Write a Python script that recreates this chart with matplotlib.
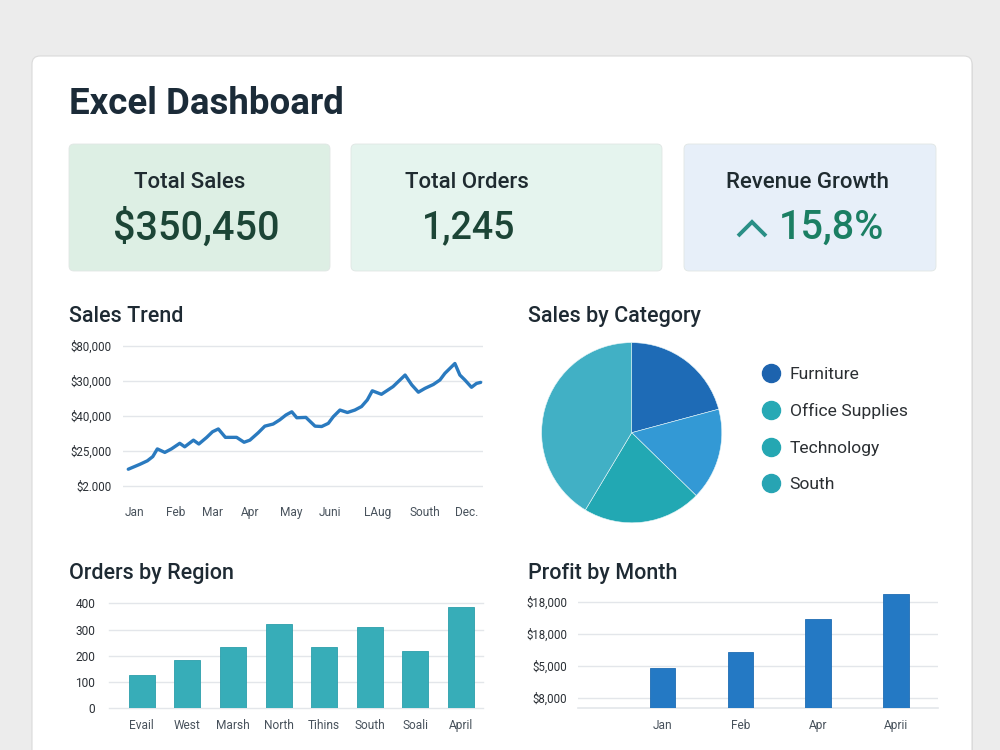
import matplotlib
matplotlib.use("Agg")
import matplotlib.pyplot as plt
from matplotlib.patches import FancyBboxPatch
from matplotlib.lines import Line2D

# ---------------- data ----------------
kpi_labels = ["Total Sales", "Total Orders", "Revenue Growth"]
kpi_values = ["$350,450", "1,245", "15,8%"]

trend_x = [-0.16, 0.12, 0.30, 0.43, 0.54, 0.72, 0.88, 1.08, 1.20, 1.41, 1.54, 1.73,
           1.87, 2.01, 2.18, 2.45, 2.63, 2.77, 2.97, 3.13, 3.33, 3.49, 3.64, 3.78,
           3.90, 4.12, 4.34, 4.50, 4.66, 4.78, 4.94, 5.12, 5.30, 5.46, 5.60, 5.72,
           5.94, 6.22, 6.51, 6.67, 6.83, 6.99, 7.19, 7.35, 7.47, 7.71, 7.83, 7.95,
           8.11, 8.23, 8.33]
trend_y = [0.48, 0.62, 0.72, 0.84, 1.06, 0.96, 1.06, 1.22, 1.12, 1.31, 1.20, 1.39,
           1.55, 1.63, 1.39, 1.39, 1.25, 1.31, 1.52, 1.71, 1.77, 1.89, 2.03, 2.12,
           1.95, 1.96, 1.71, 1.70, 1.79, 1.98, 2.17, 2.10, 2.17, 2.27, 2.46, 2.72,
           2.62, 2.84, 3.17, 2.89, 2.68, 2.79, 2.90, 3.03, 3.22, 3.50, 3.17, 3.03,
           2.82, 2.93, 2.96]
trend_ytick_labels = ["$2.000", "$25,000", "$40,000", "$30,000", "$80,000"]
trend_xtick_pos = [0, 0.99, 1.88, 2.77, 3.76, 4.70, 5.86, 6.99, 8.0]
trend_xtick_labels = ["Jan", "Feb", "Mar", "Apr", "May", "Juni", "LAug", "South", "Dec."]

pie_shares = [20.8, 16.5, 21.3, 41.4]
pie_colors = ["#1e6bb6", "#3399d5", "#22a8b3", "#41b0c5"]
legend_labels = ["Furniture", "Office Supplies", "Technology", "South"]
legend_colors = ["#1d63ae", "#27a9b5", "#25a7b2", "#27a4b3"]

region_labels = ["Evail", "West", "Marsh", "North", "Tihins", "South", "Soali", "April"]
region_orders = [128, 184, 235, 320, 235, 308, 218, 387]

profit_months = ["Jan", "Feb", "Apr", "Aprii"]
profit_values = [3.8, 5.3, 8.34, 10.7]
profit_tick_pos = [1, 4, 7, 10]
profit_tick_labels = ["$8,000", "$5,000", "$18,000", "$18,000"]

# ---------------- style ----------------
plt.rcParams["font.family"] = ["Roboto", "Liberation Sans", "DejaVu Sans"]
W, H = 1000, 750
fig = plt.figure(figsize=(10, 7.5), dpi=100)
fig.patch.set_facecolor("#ececec")


def box(x0, y0, x1, y1):
    return [x0 / W, 1 - y1 / H, (x1 - x0) / W, (y1 - y0) / H]


bg = fig.add_axes([0, 0, 1, 1])
bg.set_xlim(0, W)
bg.set_ylim(H, 0)
bg.axis("off")
bg.set_zorder(0)

# card
bg.add_patch(FancyBboxPatch((33, 58), 940, 720, boxstyle="round,pad=0,rounding_size=8",
                            fc="#d6d6d6", ec="none", alpha=0.6))
bg.add_patch(FancyBboxPatch((32, 56), 940, 720, boxstyle="round,pad=0,rounding_size=8",
                            fc="white", ec="#dadada", lw=0.8))

bg.text(69, 104, "Excel Dashboard", fontsize=26.4, fontweight="bold", color="#1b2b38",
        ha="left", va="center")

# KPI cards
kpi_boxes = [(69, 144, 330, 271), (351, 144, 662, 271), (684, 144, 936, 271)]
kpi_fc = ["#ddefe4", "#e5f4ee", "#e7eff9"]
kpi_label_x = [190, 466.5, 807.5]
for (x0, y0, x1, y1), fc in zip(kpi_boxes, kpi_fc):
    bg.add_patch(FancyBboxPatch((x0, y0), x1 - x0, y1 - y0,
                                boxstyle="round,pad=0,rounding_size=5",
                                fc=fc, ec="#e0e6e4", lw=0.6))
for lab, lx in zip(kpi_labels, kpi_label_x):
    bg.text(lx, 183, lab, fontsize=16, color="#1f2b30", ha="center", va="center",
            fontweight="medium")
bg.text(196, 228, kpi_values[0], fontsize=28.5, color="#1c4536", ha="center", va="center",
        fontweight="medium")
bg.text(468.5, 228, kpi_values[1], fontsize=27, color="#1c4536", ha="center", va="center",
        fontweight="medium")
# up-chevron icon
bg.add_line(Line2D([738, 752, 766], [236, 222, 236], color="#2a8f86", lw=2.8,
                   solid_capstyle="butt", solid_joinstyle="miter"))
bg.text(779, 228, kpi_values[2], fontsize=28.5, color="#1b7f63", ha="left", va="center",
        fontweight="medium")

# section titles
for tx, ty, tt in [(69, 322, "Sales Trend"), (528, 322, "Sales by Category"),
                   (69, 579, "Orders by Region"), (528, 579, "Profit by Month")]:
    bg.text(tx, ty, tt, fontsize=15.5, color="#1e2a33", ha="left", va="baseline",
            fontweight="medium")

grid_c = "#e3e6ea"
tick_c = "#2a2f35"
xtick_c = "#48525c"


def clean(ax):
    for s in ax.spines.values():
        s.set_visible(False)
    ax.tick_params(length=0)
    ax.set_facecolor("none")
    ax.set_zorder(1)


# Sales trend
ax1 = fig.add_axes(box(123.3, 340, 482.7, 492))
clean(ax1)
ax1.plot(trend_x, trend_y, color="#2a7abf", lw=2.4, solid_joinstyle="round",
         solid_capstyle="round")
ax1.set_xlim(-0.28, 8.38)
ax1.set_ylim(-0.171, 4.171)
ax1.set_yticks(range(len(trend_ytick_labels)))
ax1.set_yticklabels(trend_ytick_labels, fontsize=8.3, color=tick_c)
ax1.set_xticks(trend_xtick_pos)
ax1.set_xticklabels(trend_xtick_labels, fontsize=8.6, color=xtick_c)
ax1.tick_params(axis="y", pad=8.3)
ax1.tick_params(axis="x", pad=10)
ax1.yaxis.grid(True, color=grid_c, lw=1)
ax1.set_axisbelow(True)

# Pie
ax2 = fig.add_axes(box(540.7, 341.7, 722.7, 523.7))
ax2.pie(pie_shares, colors=pie_colors, startangle=90, counterclock=False, radius=1,
        wedgeprops=dict(edgecolor="#e8f6f8", linewidth=0.4))
ax2.set_xlim(-1.01, 1.01)
ax2.set_ylim(-1.01, 1.01)
ax2.set_zorder(1)
handles = [Line2D([], [], marker="o", linestyle="none", markersize=13,
                  markerfacecolor=c, markeredgecolor=c) for c in legend_colors]
fig.legend(handles, legend_labels, loc="center left",
           bbox_to_anchor=(762.4 / W, 1 - 429.5 / H), frameon=False, fontsize=12.6,
           labelspacing=1.2, handlelength=1.0, handletextpad=0.55, borderpad=0,
           borderaxespad=0, labelcolor="#2b2f33")

# Orders by region
ax3 = fig.add_axes(box(109.3, 598, 483.3, 708.3))
clean(ax3)
ax3.bar(range(len(region_orders)), region_orders, width=0.57, color="#37adb8",
        edgecolor="#2c9fab", linewidth=0.6)
ax3.set_xlim(-0.71, 7.49)
ax3.set_ylim(0, 420)
ax3.set_yticks([0, 100, 200, 300, 400])
ax3.set_yticklabels(["0", "100", "200", "300", "400"], fontsize=8.6, color=tick_c)
ax3.set_xticks(range(len(region_labels)))
ax3.set_xticklabels(region_labels, fontsize=8.6, color=xtick_c)
ax3.tick_params(axis="y", pad=10)
ax3.tick_params(axis="x", pad=8)
ax3.yaxis.grid(True, color=grid_c, lw=1, clip_on=False)
ax3.set_axisbelow(True)

# Profit by month
ax4 = fig.add_axes(box(578.3, 590, 938.3, 708.3))
clean(ax4)
ax4.bar(range(len(profit_values)), profit_values, width=0.33, color="#2479c4",
        edgecolor="#1f6db3", linewidth=0.6)
ax4.set_xlim(-1.08, 3.54)
ax4.set_ylim(0, 11.09)
ax4.set_yticks(profit_tick_pos)
ax4.set_yticklabels(profit_tick_labels, fontsize=8.3, color=tick_c)
ax4.set_xticks(range(len(profit_months)))
ax4.set_xticklabels(profit_months, fontsize=8.6, color=xtick_c)
ax4.tick_params(axis="y", pad=8)
ax4.tick_params(axis="x", pad=8)
ax4.yaxis.grid(True, color=grid_c, lw=1)
ax4.axhline(0, color=grid_c, lw=1.2, clip_on=False, zorder=0)
ax4.set_axisbelow(True)

fig.savefig("out.png", dpi=100, facecolor=fig.get_facecolor())
